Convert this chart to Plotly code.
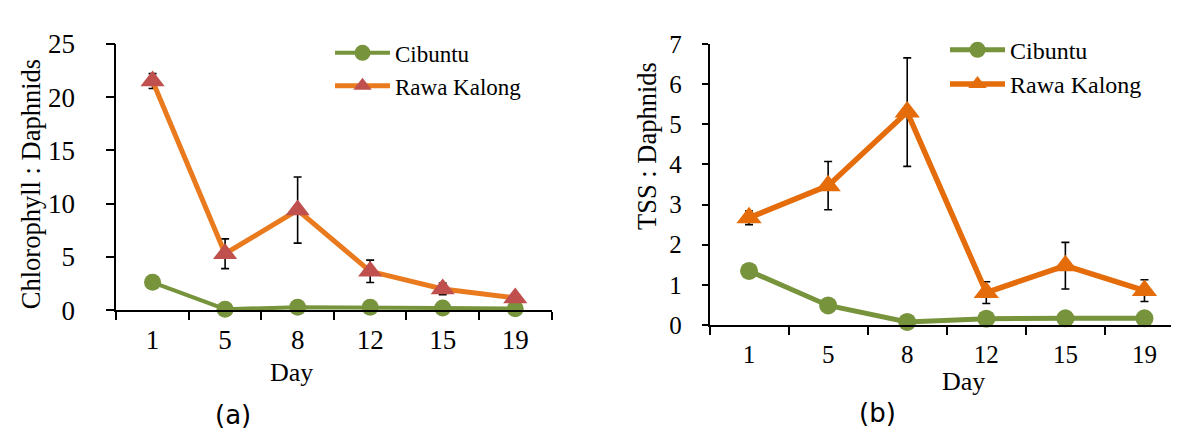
import plotly.graph_objects as go

days = ["1", "5", "8", "12", "15", "19"]

chl_cibuntu = [2.62, 0.10, 0.28, 0.28, 0.22, 0.15]
chl_rawa = [21.5, 5.3, 9.4, 3.65, 2.0, 1.15]
chl_rawa_err = [0.7, 1.4, 3.1, 1.05, 0.55, 0.3]

tss_cibuntu = [1.35, 0.49, 0.08, 0.16, 0.17, 0.17]
tss_rawa = [2.67, 3.47, 5.3, 0.81, 1.48, 0.86]
tss_rawa_err = [0.17, 0.6, 1.35, 0.27, 0.58, 0.27]

W, H = 1179, 439
GREEN = "#77933C"
ORANGE_L = "#E97A1E"
ORANGE_R = "#E46C0A"
RED = "#C0504D"
SERIF = "Liberation Serif, 'Times New Roman', serif"
SANS = "DejaVu Sans, Verdana, sans-serif"

def px_x(x):
    return x / W

def px_y(y):
    return (H - y) / H

fig = go.Figure()

# Left panel
fig.add_trace(go.Scatter(x=days, y=chl_cibuntu, name="Cibuntu", mode="lines+markers",
                         line=dict(color=GREEN, width=4), marker=dict(color=GREEN, size=17, symbol="circle"),
                         xaxis="x", yaxis="y", legend="legend", legendgroup="a1", cliponaxis=False))
fig.add_trace(go.Scatter(x=days, y=chl_rawa, name="Rawa Kalong", mode="lines+markers",
                         line=dict(color=ORANGE_L, width=5), marker=dict(color=RED, size=21, symbol="triangle-up"),
                         error_y=dict(type="data", array=chl_rawa_err, color="black", thickness=1.6, width=4),
                         xaxis="x", yaxis="y", legend="legend", legendgroup="a2", cliponaxis=False))

# Right panel
fig.add_trace(go.Scatter(x=days, y=tss_cibuntu, name="Cibuntu", mode="lines+markers",
                         line=dict(color=GREEN, width=5), marker=dict(color=GREEN, size=18, symbol="circle"),
                         xaxis="x2", yaxis="y2", legend="legend2", legendgroup="b1", cliponaxis=False))
fig.add_trace(go.Scatter(x=days, y=tss_rawa, name="Rawa Kalong", mode="lines+markers",
                         line=dict(color=ORANGE_R, width=5.5), marker=dict(color=ORANGE_R, size=22, symbol="triangle-up"),
                         error_y=dict(type="data", array=tss_rawa_err, color="black", thickness=1.6, width=4),
                         xaxis="x2", yaxis="y2", legend="legend2", legendgroup="b2", cliponaxis=False))

def xaxis_style(fs, standoff):
    return dict(type="category", range=[-0.5, 5.5], tickson="boundaries", ticks="outside",
                ticklen=8, tickwidth=1.6, tickcolor="black", showline=True, linecolor="black",
                linewidth=1.6, showgrid=False, zeroline=False, ticklabelstandoff=standoff,
                tickfont=dict(family=SERIF, size=fs, color="black"))

def yaxis_style(fs, standoff, ticklen):
    return dict(ticks="outside", ticklen=ticklen, tickwidth=1.6, tickcolor="black", showline=True,
                linecolor="black", linewidth=1.6, showgrid=False, zeroline=False,
                ticklabelstandoff=standoff, tickfont=dict(family=SERIF, size=fs, color="black"))

ann_font = dict(family=SERIF, size=26.5, color="black")

fig.update_layout(
    width=W, height=H, margin=dict(l=0, r=0, t=0, b=0),
    paper_bgcolor="white", plot_bgcolor="white",
    font=dict(family=SERIF, size=22, color="black"),
    xaxis=dict(domain=[px_x(108.3), px_x(543.5)], anchor="y", **xaxis_style(27, 5)),
    yaxis=dict(domain=[px_y(308.3), px_y(22.3)], anchor="x", range=[0, 25], dtick=5,
               **yaxis_style(27, 25, 9)),
    xaxis2=dict(domain=[px_x(701.5), px_x(1176)], anchor="y2", **xaxis_style(25, 6)),
    yaxis2=dict(domain=[px_y(324.3), px_y(22.3)], anchor="x2", range=[0, 7], dtick=1,
                **yaxis_style(25, 15, 6)),
    legend=dict(x=px_x(322), y=px_y(9), xanchor="left", yanchor="top", bgcolor="rgba(0,0,0,0)",
                font=dict(family=SERIF, size=23, color="black"), itemwidth=55, tracegroupgap=0),
    legend2=dict(x=px_x(937), y=px_y(5), xanchor="left", yanchor="top", bgcolor="rgba(0,0,0,0)",
                 font=dict(family=SERIF, size=24, color="black"), itemwidth=55, tracegroupgap=0),
    annotations=[
        dict(text="Chlorophyll : Daphnids", x=px_x(23), y=px_y(173), xref="paper", yref="paper",
             xanchor="center", yanchor="middle", showarrow=False, textangle=-90, font=ann_font),
        dict(text="TSS : Daphnids", x=px_x(639), y=px_y(132), xref="paper", yref="paper",
             xanchor="center", yanchor="middle", showarrow=False, textangle=-90, font=ann_font),
        dict(text="Day", x=px_x(283), y=px_y(375), xref="paper", yref="paper",
             xanchor="center", yanchor="middle", showarrow=False,
             font=dict(family=SERIF, size=26, color="black")),
        dict(text="Day", x=px_x(955), y=px_y(385), xref="paper", yref="paper",
             xanchor="center", yanchor="middle", showarrow=False,
             font=dict(family=SERIF, size=26, color="black")),
        dict(text="(a)", x=px_x(224.5), y=px_y(421), xref="paper", yref="paper",
             xanchor="center", yanchor="middle", showarrow=False,
             font=dict(family=SANS, size=26, color="black")),
        dict(text="(b)", x=px_x(869), y=px_y(419), xref="paper", yref="paper",
             xanchor="center", yanchor="middle", showarrow=False,
             font=dict(family=SANS, size=26, color="black")),
    ],
)

fig.write_html("out.html")
